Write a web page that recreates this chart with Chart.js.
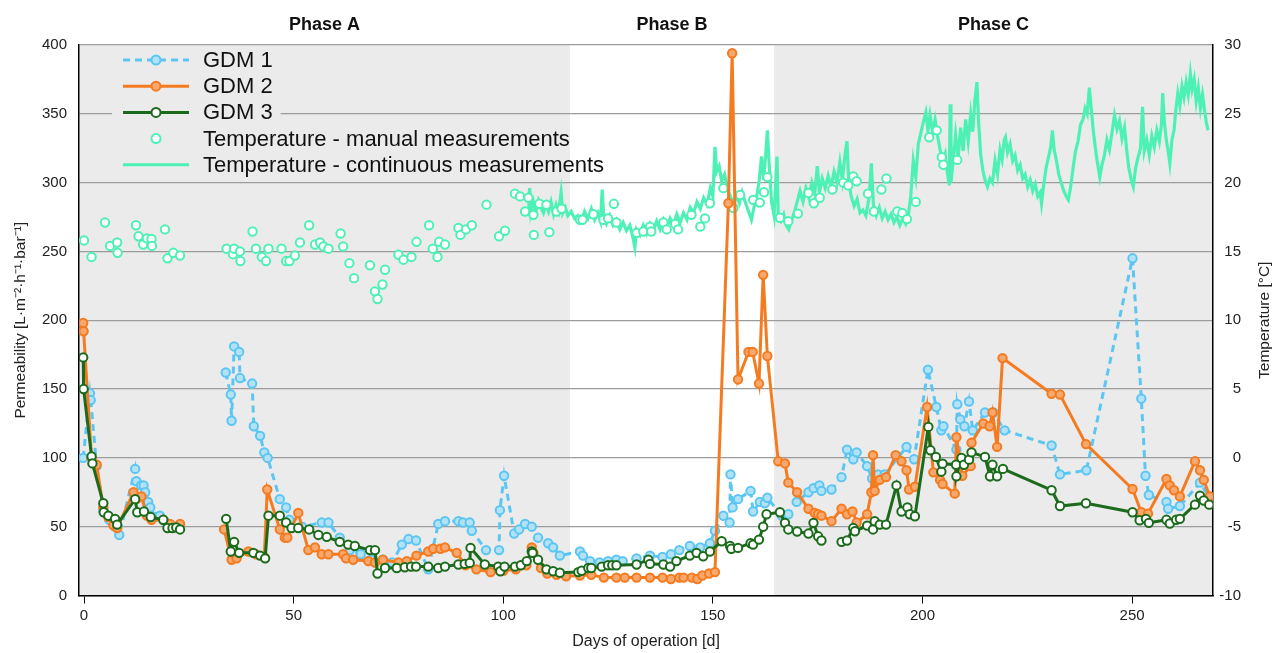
<!DOCTYPE html>
<html>
<head>
<meta charset="utf-8">
<script src="https://cdn.jsdelivr.net/npm/chart.js@4.4.1/dist/chart.umd.min.js"></script>
<style>
  html, body { margin: 0; padding: 0; background: #fff; }
  #wrap { width: 1277px; height: 653px; position: relative; }
</style>
</head>
<body>
<div id="wrap"><canvas id="chart"></canvas></div>
<script>
// [day, permeability]  (null = gap in the line)
const gdm1 = [
  [-0.2,100],[1.4,147],[1.6,142],[3,94],[4.6,62],[6,55],[7.4,50],[8.4,44],[12.2,92],[12.5,83],[13.6,80],[14.2,80],
  [14.6,75],[15.3,68],[15.8,64],[17,57],[18.1,58],[19.2,54],[20.3,52],[21.2,50],[22.2,50],[28,null],
  [33.8,162],[35,146],[35.2,127],[35.8,181],[37,177],[37.2,158],[40.1,154],[40.5,123],[42,116],[43,104],[43.8,100],
  [46.7,70],[48.2,64],[49,55],[52,50],[56.7,53],[58.3,53],[61,42],[63.4,33],[66,30],[68.5,26],[71.3,26],[73.5,24],
  [75.8,37],[77.4,41],[79.2,40],[82.1,19],[84.5,52],[86.1,54],[89.3,54],[90.4,53],[92,53],[92.5,47],[95.9,33],
  [99,33],[99.2,62],[100.2,87],[102.6,45],[103.8,48],[105.2,52],[106.8,50],[108.3,42],[110.7,38],[111.9,35],
  [113.5,29],[118.3,32],[119,29],[120.7,25],[123,24],[125,25],[127,26],[128.5,25],[131.8,27],[135,29],[138,28],
  [140,30],[142,33],[144.5,36],[147,35],[149.3,38],[150.5,47],[152.5,58],[154,53],[154.2,88],[154.7,64],[156,70],
  [159,76],[159.6,61],[161.2,68],[162.4,67],[163,71],[166.4,58],[168,59],[170,68],[172.8,75],[174,78],[175.4,80],
  [175.9,76],[178.3,77],[180.7,86],[182,106],[183.5,99],[184.3,104],[186.8,94],[188,85],[189.4,88],[191,88],
  [196.2,108],[198,99],[201.3,164],[203.3,137],[204.5,120],[205,123],[208.1,106],[208.3,139],[209,128],[210,123],
  [211.1,141],[212,120],[214.9,133],[216.9,133],[219.6,120],[230.8,109],[232.8,88],[239.1,91],[250.1,245],
  [252.2,143],[253.2,87],[254,73],[258.2,68],[258.6,63],[261.4,65],[266.2,82],[268.5,71]
];

const gdm2 = [
  [-0.2,198],[-0.1,192],[1.8,100],[3,95],[4.6,64],[5.8,57],[7,51],[7.9,49],[11.8,75],[12.5,70],[13.7,72],[15,58],
  [16.1,55],[18.9,55],[20.5,52],[22.9,52],[28,null],
  [33.4,48],[35.2,26],[36.4,27],[39.2,32],[41,30],[43,28],[43.7,77],[46.7,48],[47.9,42],[48.5,42],[51.1,60],
  [53.5,33],[55.1,35],[56.7,30],[58.3,30],[61.8,30],[62.5,27],[64.2,26],[67.8,25],[69.4,24],[71.3,26],[75,24],
  [77,25],[79.3,29],[82.1,32],[83.3,34],[85,34],[86.1,35],[88.9,31],[91,22],[93.6,19],[97,17],[100,18],[103,19],
  [105.5,22],[106.8,35],[107.2,31],[109,20],[110.5,16],[112.7,15],[115,14],[118.3,14.5],[121,15],[124,13],[127,13],
  [129,13],[131.8,13],[135,13],[138,13],[140,12],[142,13],[143,13],[145,13],[146.3,12],[147.5,14.5],[149.1,16],
  [150.5,17],[153.7,285],[154.6,394],[156,157],[158.5,177],[159.5,177],[161,154],[162,233],[163,174],[165.6,97.5],
  [167.2,96],[168,82],[170.1,75],[172.8,63],[174.3,60],[175.1,59],[175.9,58],[178.3,54],[180.7,63],[182,59],
  [183.3,61],[184.3,53],[186.8,59],[187.8,75],[188.2,102],[188.6,76],[189.8,84],[191.3,86],[193.6,102],[195,97.5],
  [196.2,91],[196.8,77],[198.2,79],[201.1,137],[202.6,89.5],[204.2,84],[204.8,81],[207.7,74],[208.1,115],[209.5,87],
  [211.5,94],[211.7,111],[214.5,125],[216,123],[216.7,133],[217.8,108],[219.1,172.5],[230.8,146.6],[232.8,146],
  [239,110],[250.1,77.4],[252.2,60.5],[253.8,59.5],[258.2,84.7],[259,80],[260,76.5],[261.4,72],[265,97.5],
  [266.2,91],[267.1,84],[268.5,72]
];

const gdm3 = [
  [-0.2,173],[-0.1,150],[1.8,101],[2,96],[4.6,67],[4.7,60.5],[5.8,58],[7.4,55.7],[7.9,51.5],[12.2,70],[12.7,60.5],
  [14.3,61],[15.9,57],[18.9,55],[19.9,49],[21.1,49],[22,49.5],[22.9,48],[28,null],
  [33.9,55.7],[35,32],[35.8,39],[37,31],[40.4,31],[42,29],[43.2,27],[44,58],[46.7,58],[48.2,53],[49.5,49],[51.1,49],
  [53.7,48],[55.9,44],[57.9,42.6],[61,39],[63,37],[64.6,36],[68.2,33],[69.4,33],[70,16],[71.8,20],[74.6,20],
  [76.5,20.5],[78,21],[79.2,21],[82.1,21],[84.5,20],[86.1,21],[89.3,22.5],[90.8,23],[92,23.7],[92.2,34.6],[95.6,22.5],
  [98.8,21],[99.3,17.6],[100.3,21],[102.8,21],[104.2,22],[105.6,25],[106.8,32],[107,31],[108.3,26],[110.3,19],
  [111.9,17.6],[113.5,16.5],[117.9,17],[118.7,18],[120.3,20],[121,20],[123.5,21],[125,22],[126,22],[127,22],
  [131.8,22.5],[134.6,26],[135,23],[138.2,22.5],[139.8,21],[141.3,25],[144.5,29],[146.1,31],[147.7,28.5],[149.3,32],
  [152.1,39.4],[154.1,36],[154.4,34],[156,34.6],[159,38],[159.6,37],[161,40.6],[162,50],[162.8,59],[166,60.5],
  [167.2,52.8],[168,48],[170.1,46.5],[172.8,45],[174,52.8],[175.1,43],[175.9,40],[178,null],
  [180.7,39],[182,40],[183.5,49],[183.9,46.7],[186.8,50.8],[188.2,48],[188.6,54],[189.8,51.5],[191.3,51.5],
  [193.8,80],[195,61],[196.4,64],[197,59],[198.2,57.6],[201.4,122.5],[201.9,105.5],[203.2,100.7],[204.5,90],
  [204.8,95.8],[208,95],[208.1,86.6],[209.3,100],[209.9,95],[211.1,98.7],[211.7,104],[214.9,100.7],[216.1,86.6],
  [216.7,95],[217.8,86.6],[219.2,92],[230.8,76.5],[232.8,65],[239,67],[250.1,60.5],[251.8,54.7],[253.3,55.7],
  [254,52.8],[258.2,55],[259,52.3],[260.5,55],[261.4,55.7],[265,66],[266.2,72.6],[267.1,69],[268.4,66]
];

// [day, temperature °C]
const tempManual = [
  [0,15.8],[1.8,14.6],[5,17.1],[6.2,15.4],[7.9,15.65],[8,14.9],[12.4,16.9],[13,16.1],[14.1,15.5],[15,15.95],
  [16.1,15.9],[16.2,15.4],[19.3,16.6],[19.9,14.5],[21.3,14.9],[22.9,14.7],[34,15.2],[35.5,14.8],[35.8,15.2],
  [37.2,15.0],[37.3,14.3],[40.2,16.45],[41,15.2],[42.4,14.6],[43.4,14.3],[44,15.2],[47.1,15.2],[48.2,14.3],
  [49,14.3],[50.3,14.7],[51.5,15.65],[53.7,16.9],[55.1,15.5],[56.3,15.65],[57.1,15.36],[58.3,15.2],[61.2,16.3],
  [61.8,15.36],[63.3,14.15],[64.4,13.06],[68.2,14.0],[69.4,12.1],[70,11.54],[71.2,12.6],[71.8,13.67],[75,14.76],
  [76.2,14.4],[78.1,14.6],[79.3,15.7],[82.3,16.9],[83.2,15.2],[84.3,14.6],[84.7,15.7],[86.1,15.5],[89.3,16.7],
  [89.8,16.2],[91.1,16.6],[92.5,16.9],[96,18.4],[99,16.1],[100.4,16.5],[102.8,19.2],[104,19.0],[105.2,17.9],
  [106,18.9],[107.2,17.66],[107.3,16.2],[108.6,18.46],[110.3,18.4],[111,16.4],[112.7,17.9],[113.9,18.1],
  [118.3,17.3],[118.9,17.3],[121.5,17.7],[123.9,17.3],[125,17.4],[126.4,18.46],[127,17.1],[131.8,16.35],
  [133.4,16.45],[135,16.8],[135.3,16.45],[138.2,17.1],[139,16.6],[141,17.0],[141.7,16.6],[144.9,17.66],[147,16.8],
  [148.1,17.4],[149.3,18.5],[152.5,19.6],[154.1,18.55],[154.9,18.15],[156.5,19.1],[159.6,18.75],[161.2,18.55],
  [162.2,19.3],[163,20.4],[166,17.45],[168,17.2],[170.3,17.75],[172.8,19.25],[174.1,18.5],[175.5,18.9],[178.5,19.5],
  [181.1,20.0],[182.3,19.8],[183.5,20.45],[184.3,20.1],[187,19.2],[188.4,17.9],[190.2,19.5],[191.4,20.3],[194,17.9],
  [195.2,17.8],[196.3,17.35],[198.4,18.6],[201.6,23.3],[203.4,23.8],[204.6,21.85],[205,21.3],[208.3,21.65]
];

const tempContinuous = [
  [106,17.6],[106.3,19.6],[106.6,17.8],[107.2,18.6],[107.8,17.9],[108.4,18.7],[109,18.2],[109.6,17.8],[110.2,18.4],
  [110.8,17.9],[111.4,18.6],[112,17.7],[112.6,18.4],[113.2,17.9],[113.8,19.3],[114.2,17.8],[114.8,18.2],[115.4,17.6],
  [116.2,17.9],[117,17.4],[117.8,17.6],[118.6,17.2],[119.4,17.9],[120.2,17.4],[121,18.1],[121.8,17.3],[122.6,17.8],
  [123.2,17.2],[123.6,19.5],[124,17.4],[124.6,17],[125.4,17.6],[126.2,16.9],[127,17.3],[127.8,16.6],[128.6,17.1],
  [129.4,16.5],[130.2,16.9],[130.8,16.2],[131.4,15.3],[131.8,16.6],[132.6,16.2],[133.4,16.9],[134.2,16.3],[135,17],
  [135.8,16.5],[136.6,17.2],[137.4,16.6],[138.2,17.3],[139,16.7],[139.8,17.4],[140.6,16.9],[141.4,17.7],[142.2,17.1],
  [143,17.8],[143.8,17.3],[144.6,18.2],[145.4,17.8],[146.2,18.6],[147,18.1],[147.8,18.9],[148.6,18.4],[149.4,19.6],
  [150,19],[150.5,22.6],[150.9,20.8],[151.5,21.2],[152.1,20.1],[152.8,20.6],[153.5,19.5],[154.2,19],[154.9,18.4],
  [155.6,19.1],[156.3,18.5],[157,19.3],[157.7,18.6],[158.4,18],[159.2,17.3],[159.8,18.2],[160.4,18.9],[161,20],
  [161.6,21.9],[162.1,20.2],[162.6,22],[163,23.8],[163.4,21.5],[164,18.6],[164.6,17.6],[165.3,21.9],[165.6,17.5],
  [166.2,17.2],[166.9,17.7],[167.5,16.9],[168.1,16.6],[168.7,17.2],[169.4,17.8],[170.1,18.6],[170.8,19.4],[171.5,18.6],
  [172.2,19.6],[172.9,18.9],[173.6,20],[174.3,19.2],[174.9,21.2],[175.4,19.3],[176.1,20.3],[176.8,19.6],[177.5,20.5],
  [178.2,19.7],[178.9,20.8],[179.6,20],[180.3,21.5],[180.9,20.2],[181.5,22],[182,23],[182.4,20.1],[183,19],
  [183.7,18.3],[184.4,18.8],[185.1,17.8],[185.8,18],[186.5,17.6],[187.3,19],[187.8,21.4],[188.3,18.4],[189,17.6],
  [189.7,18.2],[190.4,17.4],[191.1,17.9],[191.8,17.3],[192.5,17.7],[193.2,17.1],[193.9,17.5],[194.6,16.9],[195.3,17.4],
  [196,17],[196.6,17.6],[197.2,19],[197.8,21.6],[198.4,20.4],[199,22.8],[199.6,23.6],[200.2,24.4],[200.8,25.1],
  [201.3,23.8],[201.8,24.9],[202.4,23.7],[203,24.6],[203.6,23.4],[204.2,22.4],[204.8,21.6],[205.4,22.1],[205.9,20.8],
  [206.4,19.8],[206.6,25.7],[206.8,20],[207.3,21.6],[207.9,23.5],[208.5,21.8],[209.1,24],[209.7,22.3],[210.3,24.6],
  [210.9,23],[211.5,25],[212,23.7],[212.5,26],[213,27.3],[213.4,24.3],[213.9,22],[214.4,20.9],[214.9,20.2],
  [215.5,19.7],[216.1,20.3],[216.7,20],[217.3,21.6],[217.9,20.6],[218.5,22.4],[219,21.7],[219.5,23.1],[219.8,23.3],
  [220.3,22.2],[220.9,22.8],[221.5,21.6],[222.1,22],[222.7,20.9],[223.3,21.3],[223.9,20.3],[224.5,20.6],[225.1,19.7],
  [225.7,20.2],[226.3,19.4],[226.9,19.9],[227.5,19],[228.1,19.3],[228.4,18.5],[228.9,19.8],[229.5,21.1],[230.1,21.9],
  [230.6,22.6],[231,23.8],[231.4,22.4],[231.9,21.7],[232.5,20.6],[233.1,20],[233.7,19.4],[234.3,19],[234.8,18.75],
  [235.3,19.6],[235.9,21],[236.5,22.3],[237.1,23],[237.7,24.2],[238.3,24.6],[238.8,25.4],[239.3,25],[239.8,26.9],
  [240.2,25.6],[240.7,23.9],[241.2,22.6],[241.7,21.5],[242.3,20.4],[242.8,21.3],[243.4,22],[244,23.1],[244.6,22.4],
  [245.2,23.6],[245.8,24.9],[246.4,23.9],[247,24.5],[247.6,23.2],[248.2,24],[248.7,22.4],[249.2,21.1],[249.8,20.2],
  [250.3,19.7],[250.8,21],[251.4,21.8],[252,22.5],[252.5,25.5],[252.9,22.3],[253.5,23.1],[254.1,22],[254.7,23.4],
  [255.3,22.6],[255.9,23.8],[256.5,23],[257,24.2],[257.3,26.5],[257.7,24.4],[258.2,23],[258.7,22.1],[259,21.4],
  [259.5,23.1],[260,23.8],[260.4,25.2],[260.9,26.5],[261.4,25.6],[261.9,27],[262.4,26.2],[262.9,27.3],[263.4,26.4],
  [263.9,27.9],[264.3,26.8],[264.8,27.5],[265.3,25.9],[265.8,26.9],[266.3,25.4],[266.8,26.4],[267.3,25.2],
  [267.7,24.4],[268.1,23.8]
];

const phaseNames = ["Phase A", "Phase B", "Phase C"];
const phaseBounds = [-1.2, 115.9, 164.6, 269.3];   // day limits of the three phases
const permTicks = [0, 50, 100, 150, 200, 250, 300, 350, 400];
const tempTicks = [-10, -5, 0, 5, 10, 15, 20, 25, 30];

const FONT = "'Liberation Sans', Arial, sans-serif";
const MINT = "#4ef1b5";

function toXY(list) {
  return list.map(p => ({ x: p[0], y: p[1] }));
}

/* =========================
   PHASE BACKGROUND + LABELS
========================= */
const phasePlugin = {
  id: "phases",
  beforeDraw(chart) {
    const { ctx, chartArea, scales } = chart;
    const x = scales.x;
    ctx.save();
    ctx.fillStyle = "#ebebeb";
    [0, 2].forEach(i => {
      const l = Math.max(chartArea.left, x.getPixelForValue(phaseBounds[i]));
      const r = Math.min(chartArea.right, x.getPixelForValue(phaseBounds[i + 1]));
      ctx.fillRect(l, chartArea.top, r - l, chartArea.bottom - chartArea.top);
    });
    ctx.restore();
  },
  afterDraw(chart) {
    const { ctx, scales, chartArea } = chart;
    const x = scales.x;
    ctx.save();
    ctx.fillStyle = "#111";
    ctx.font = "bold 18px " + FONT;
    ctx.textAlign = "center";
    ctx.textBaseline = "middle";
    phaseNames.forEach((name, i) => {
      const mid = (phaseBounds[i] + phaseBounds[i + 1]) / 2;
      ctx.fillText(name, x.getPixelForValue(mid), 25);
    });

    // right axis labels, right aligned
    const y1 = scales.y1;
    ctx.font = "15px " + FONT;
    ctx.fillStyle = "#222";
    ctx.textAlign = "right";
    tempTicks.forEach(t => {
      ctx.fillText(String(t), 1241, y1.getPixelForValue(t));
    });

    // right axis title, reading bottom to top
    ctx.translate(1265, (chartArea.top + chartArea.bottom) / 2);
    ctx.rotate(-Math.PI / 2);
    ctx.textAlign = "center";
    ctx.font = "15.5px " + FONT;
    ctx.fillText("Temperature [°C]", 0, 0);
    ctx.restore();
  }
};

/* =========================
   LEGEND (inside the plot)
========================= */
const legendItems = [
  { text: "GDM 1", line: "#5cc6f2", dash: [7, 5], fill: "#b2e2f8", stroke: "#5cc6f2" },
  { text: "GDM 2", line: "#f47b20", dash: [], fill: "#f8a86c", stroke: "#f47b20" },
  { text: "GDM 3", line: "#1c6b1c", dash: [], fill: "#ffffff", stroke: "#1c6b1c" },
  { text: "Temperature - manual measurements", line: null, fill: "#ffffff", stroke: MINT },
  { text: "Temperature - continuous measurements", line: MINT, dash: [], fill: null, stroke: null }
];

const legendPlugin = {
  id: "insideLegend",
  afterDraw(chart) {
    const { ctx, scales } = chart;
    const shadeEnd = scales.x.getPixelForValue(phaseBounds[1]);
    ctx.save();
    ctx.font = "22px " + FONT;
    ctx.textBaseline = "middle";
    legendItems.forEach((it, i) => {
      const y = 60 + i * 26.2;
      const w = ctx.measureText(it.text).width;
      ctx.fillStyle = "#ebebeb";
      ctx.fillRect(112, y - 12, Math.min(203 + w + 8, shadeEnd) - 112, 24);

      if (it.line) {
        ctx.strokeStyle = it.line;
        ctx.lineWidth = 3;
        ctx.setLineDash(it.dash);
        ctx.beginPath();
        ctx.moveTo(123, y);
        ctx.lineTo(189, y);
        ctx.stroke();
        ctx.setLineDash([]);
      }
      if (it.stroke) {
        ctx.beginPath();
        ctx.arc(156, y, 4.5, 0, Math.PI * 2);
        ctx.fillStyle = it.fill;
        ctx.fill();
        ctx.strokeStyle = it.stroke;
        ctx.lineWidth = 2;
        ctx.stroke();
      }
      ctx.fillStyle = "#111";
      ctx.fillText(it.text, 203, y + 1);
    });
    ctx.restore();
  }
};

/* =========================
   CHART
========================= */
function initChart() {
  const canvas = document.getElementById("chart");

  const seriesStyle = (color, fill, dash) => ({
    borderColor: color,
    backgroundColor: fill,
    pointBorderColor: color,
    pointBackgroundColor: fill,
    pointRadius: 4.2,
    pointBorderWidth: 2,
    borderWidth: 3,
    borderDash: dash,
    tension: 0,
    spanGaps: false
  });

  new Chart(canvas, {
    type: "line",
    data: {
      datasets: [
        Object.assign({ label: "GDM 3", data: toXY(gdm3), yAxisID: "y", order: 0 },
          seriesStyle("#1c6b1c", "#ffffff", [])),
        Object.assign({ label: "GDM 2", data: toXY(gdm2), yAxisID: "y", order: 1 },
          seriesStyle("#f47b20", "#f8a86c", [])),
        Object.assign({ label: "GDM 1", data: toXY(gdm1), yAxisID: "y", order: 2 },
          seriesStyle("#5cc6f2", "#b2e2f8", [7, 5])),
        {
          label: "Temperature - manual measurements",
          data: toXY(tempManual),
          yAxisID: "y1",
          order: 3,
          showLine: false,
          pointRadius: 4.2,
          pointBorderWidth: 2,
          pointBorderColor: MINT,
          pointBackgroundColor: "#ffffff",
          borderColor: MINT,
          backgroundColor: "#ffffff"
        },
        {
          label: "Temperature - continuous measurements",
          data: toXY(tempContinuous),
          yAxisID: "y1",
          order: 4,
          pointRadius: 0,
          borderWidth: 3.2,
          borderColor: MINT,
          tension: 0
        }
      ]
    },
    options: {
      responsive: true,
      maintainAspectRatio: false,
      animation: false,
      devicePixelRatio: 1,
      layout: { padding: { top: 45, left: 0, right: 0, bottom: 0 } },
      plugins: { legend: { display: false }, tooltip: { enabled: false } },
      scales: {
        x: {
          type: "linear",
          min: phaseBounds[0],
          max: phaseBounds[3],
          afterFit: s => { s.height = 57.5; },
          ticks: { stepSize: 50, includeBounds: false, color: "#222", padding: 3, font: { family: FONT, size: 15 } },
          grid: { drawOnChartArea: false, drawTicks: true, tickLength: 8, color: "#000", lineWidth: 1 },
          border: { color: "#000", width: 1.5 },
          title: { display: true, text: "Days of operation [d]", color: "#222",
                   font: { family: FONT, size: 16 }, padding: { top: 0, bottom: 2 } }
        },
        y: {
          position: "left",
          min: permTicks[0],
          max: permTicks[permTicks.length - 1],
          afterFit: s => { s.width = 79; },
          afterBuildTicks: s => { s.ticks = permTicks.map(v => ({ value: v })); },
          ticks: { color: "#222", padding: 12, font: { family: FONT, size: 15 } },
          grid: { color: "#9c9c9c", lineWidth: 1.2, drawTicks: false },
          border: { color: "#000", width: 1.5 },
          title: { display: true, text: "Permeability [L·m⁻²·h⁻¹·bar⁻¹]", color: "#222",
                   font: { family: FONT, size: 15.5 }, padding: { top: 11, bottom: 0 } }
        },
        y1: {
          position: "right",
          min: tempTicks[0],
          max: tempTicks[tempTicks.length - 1],
          afterFit: s => { s.width = 64; },
          ticks: { display: false, stepSize: 5 },
          grid: { drawOnChartArea: false, drawTicks: false },
          border: { color: "#000", width: 1.5 },
          title: { display: false }
        }
      }
    },
    plugins: [phasePlugin, legendPlugin]
  });
}

document.addEventListener("DOMContentLoaded", () => {
  initChart();
});
</script>
</body>
</html>
